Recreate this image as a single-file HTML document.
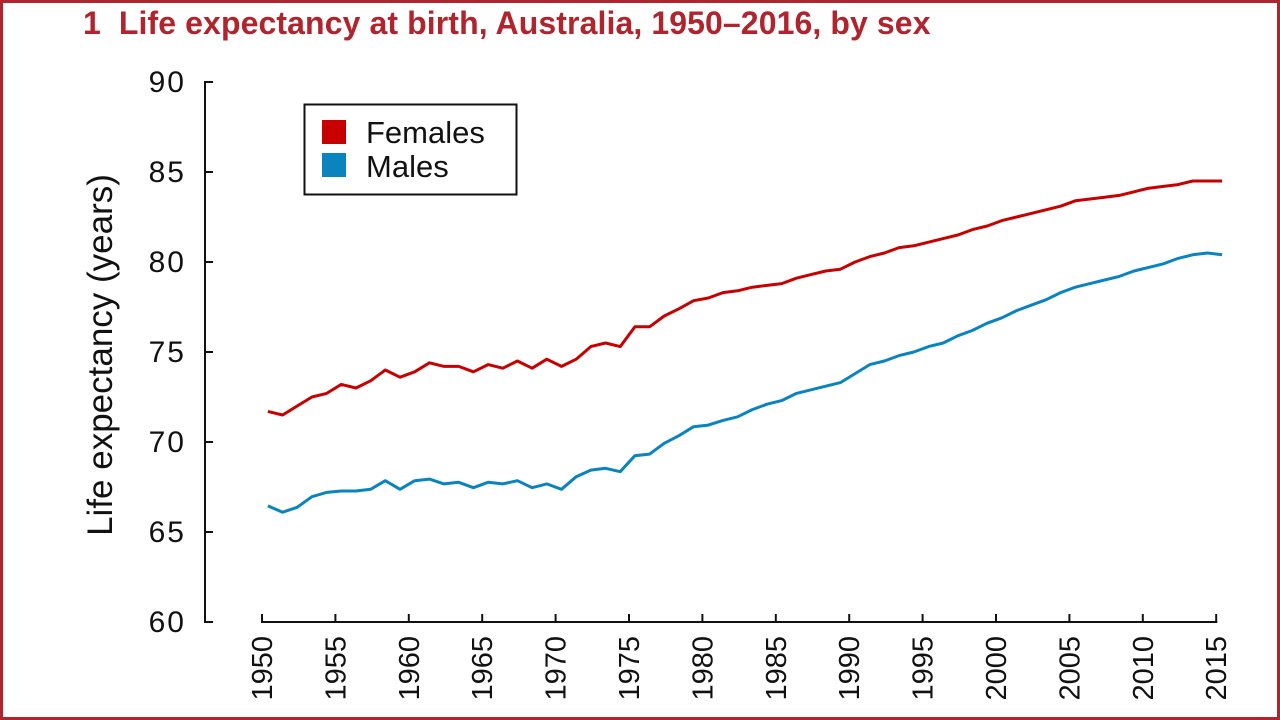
<!DOCTYPE html>
<html><head><meta charset="utf-8"><style>
html,body{margin:0;padding:0;background:#fff;}
body{width:1280px;height:720px;overflow:hidden;position:relative;font-family:"Liberation Sans",sans-serif;}
.frame{position:absolute;left:0;top:0;width:1274px;height:714px;border:3px solid #b0252d;}
.title{position:absolute;left:83px;top:5px;font-size:32px;font-weight:bold;color:#b0252d;white-space:nowrap;letter-spacing:0.1px;}
</style></head><body>
<div class="frame"></div>
<div class="title">1&nbsp; Life expectancy at birth, Australia, 1950–2016, by sex</div>
<svg id="chart" width="1280" height="720" style="position:absolute;left:0;top:0"></svg>
<script>
const years=[];for(let y=1950;y<=2015;y++)years.push(y);
const females=[71.7,71.5,72.0,72.5,72.7,73.2,73.0,73.4,74.0,73.6,73.9,74.4,74.2,74.2,73.9,74.3,74.1,74.5,74.1,74.6,74.2,74.6,75.3,75.5,75.3,76.4,76.4,77.0,77.4,77.85,78.0,78.3,78.4,78.6,78.7,78.8,79.1,79.3,79.5,79.6,80.0,80.3,80.5,80.8,80.9,81.1,81.3,81.5,81.8,82.0,82.3,82.5,82.7,82.9,83.1,83.4,83.5,83.6,83.7,83.9,84.1,84.2,84.3,84.5,84.5,84.5];
const males=[66.45,66.1,66.37,66.96,67.2,67.28,67.28,67.37,67.85,67.37,67.85,67.94,67.67,67.76,67.46,67.76,67.67,67.85,67.46,67.67,67.37,68.07,68.44,68.54,68.35,69.24,69.33,69.93,70.35,70.85,70.94,71.2,71.4,71.8,72.1,72.3,72.7,72.9,73.1,73.3,73.8,74.3,74.5,74.8,75.0,75.3,75.5,75.9,76.2,76.6,76.9,77.3,77.6,77.9,78.3,78.6,78.8,79.0,79.2,79.5,79.7,79.9,80.2,80.4,80.5,80.4];
const yTicks=[60,65,70,75,80,85,90];
const xTicks=[1950,1955,1960,1965,1970,1975,1980,1985,1990,1995,2000,2005,2010,2015];
const NS="http://www.w3.org/2000/svg";
const svg=document.getElementById('chart');
const xs=y=>262+(y-1950)*14.68;
const xd=y=>xs(y+0.4);
const ys=v=>622-(v-60)*18;
function el(t,a){const e=document.createElementNS(NS,t);for(const k in a)e.setAttribute(k,a[k]);svg.appendChild(e);return e;}
let e=el('line',{x1:205,y1:ys(90),x2:205,y2:ys(60),stroke:'#111','stroke-width':2});


yTicks.forEach(v=>{
 let t=el('line',{x1:204,y1:ys(v),x2:213,y2:ys(v),stroke:'#111','stroke-width':2});
 
 
 let l=el('text',{x:186,y:ys(v)+10,'text-anchor':'end','font-size':30,fill:'#111','font-family':'Liberation Sans, sans-serif','letter-spacing':'2'});
 l.textContent=v;
 
 
});
e=el('line',{x1:xs(1950),y1:622,x2:xs(2015)+1,y2:622,stroke:'#111','stroke-width':2});


xTicks.forEach(yr=>{
 let t=el('line',{x1:xs(yr),y1:614,x2:xs(yr),y2:623,stroke:'#111','stroke-width':2});
 
 
 let l=el('text',{x:0,y:0,'text-anchor':'end','font-size':29,fill:'#111','font-family':'Liberation Sans, sans-serif',transform:`translate(${xs(yr)+10},636) rotate(-90)`});
 l.textContent=yr;
 
 
});
let yt=el('text',{x:0,y:0,'text-anchor':'middle','font-size':35,fill:'#111','font-family':'Liberation Sans, sans-serif',transform:'translate(112,355) rotate(-90)'});
yt.textContent='Life expectancy (years)';


function line(data,color,name){
 const d=data.map((v,i)=>(i?'L':'M')+xd(years[i]).toFixed(1)+' '+ys(v).toFixed(1)).join(' ');
 const p=el('path',{d:d,fill:'none',stroke:color,'stroke-width':3,'stroke-linejoin':'round'});
 
 
}
line(females,'#c80000','females-line');
line(males,'#0a84bf','males-line');
</script>
<svg width="1280" height="720" style="position:absolute;left:0;top:0;pointer-events:none">
<g>
<rect x="304.5" y="104.5" width="212" height="90" fill="#fff" stroke="#111" stroke-width="2"/>
<rect x="322" y="120" width="24" height="24" fill="#c80000"/>
<text x="366" y="143" font-size="31" fill="#111" font-family="Liberation Sans, sans-serif">Females</text>
<rect x="322" y="153" width="24" height="24" fill="#0a84bf"/>
<text x="366" y="177" font-size="31" fill="#111" font-family="Liberation Sans, sans-serif">Males</text>
</g>
</svg>
</body></html>
